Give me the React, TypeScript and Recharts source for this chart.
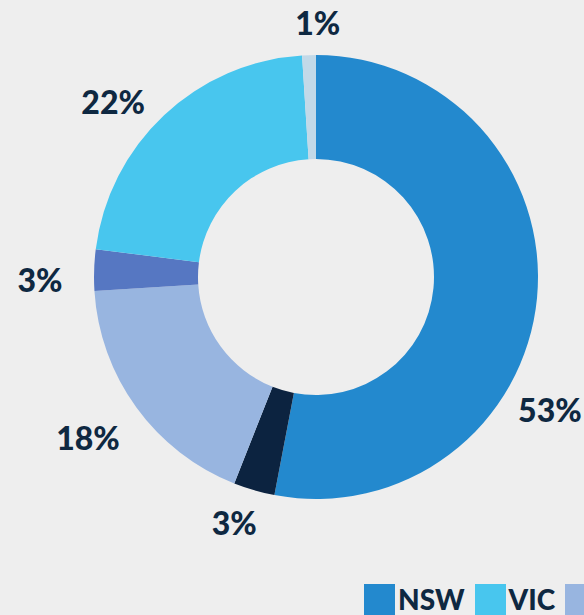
import React from 'react';
import { PieChart, Pie, Cell, Legend } from 'recharts';

const regions = ['NSW', 'ACT', 'QLD', 'SA', 'VIC', 'WA'];
const shares = [53, 3, 18, 3, 22, 1];
const colors = ['#2389CE', '#0C2340', '#98B5E0', '#5677C2', '#48C6EE', '#C2D9E8'];
const legendOrder = ['NSW', 'VIC', 'QLD'];

// label placement: polar angle (deg, counter-clockwise from +x) and radius from pie centre
const labelAngles = [-29.6, -108.4, -144.8, -179.4, 139.2, 89.6];
const labelRadii = [269, 259, 279, 276, 268, 255];

const data = regions.map((name, i) => ({ name, value: shares[i], color: colors[i] }));

const TEXT = '#0E2841';
const FONT = 'Lato, "Open Sans", sans-serif';

const renderLabel = (props: any) => {
  const { cx, cy, index, value } = props;
  const a = (labelAngles[index] * Math.PI) / 180;
  const r = labelRadii[index];
  const x = cx + r * Math.cos(a);
  const y = cy - r * Math.sin(a);
  return (
    <text
      x={x}
      y={y}
      textAnchor="middle"
      dominantBaseline="central"
      fill={TEXT}
      fontFamily={FONT}
      fontWeight={900}
      fontSize={32}
    >
      {`${value}%`}
    </text>
  );
};

const LegendContent = () => (
  <div style={{ display: 'flex', alignItems: 'center', whiteSpace: 'nowrap' }}>
    {legendOrder.map((name) => {
      const d = data.find((e) => e.name === name)!;
      return (
        <div key={name} style={{ display: 'flex', alignItems: 'center', marginRight: 10 }}>
          <div style={{ width: 31, height: 31, background: d.color }} />
          <span
            style={{
              marginLeft: 3,
              fontFamily: FONT,
              fontWeight: 900,
              fontSize: 28,
              color: TEXT,
              lineHeight: '31px',
            }}
          >
            {name}
          </span>
        </div>
      );
    })}
  </div>
);

export default function App() {
  return (
    <div
      style={{
        position: 'fixed',
        left: 0,
        top: 0,
        width: 584,
        height: 615,
        overflow: 'hidden',
        background: '#EEEEEE',
      }}
    >
      <PieChart width={584} height={615} margin={{ top: 0, right: 0, bottom: 0, left: 0 }}>
        <Pie
          data={data}
          dataKey="value"
          nameKey="name"
          cx={316}
          cy={277}
          innerRadius={118}
          outerRadius={222}
          startAngle={90}
          endAngle={-270}
          stroke="none"
          label={renderLabel}
          labelLine={false}
          isAnimationActive={false}
        >
          {data.map((d) => (
            <Cell key={d.name} fill={d.color} />
          ))}
        </Pie>
        <Legend
          content={<LegendContent />}
          wrapperStyle={{ position: 'absolute', left: 364, top: 584, width: 'auto', bottom: 'auto' }}
        />
      </PieChart>
    </div>
  );
}
